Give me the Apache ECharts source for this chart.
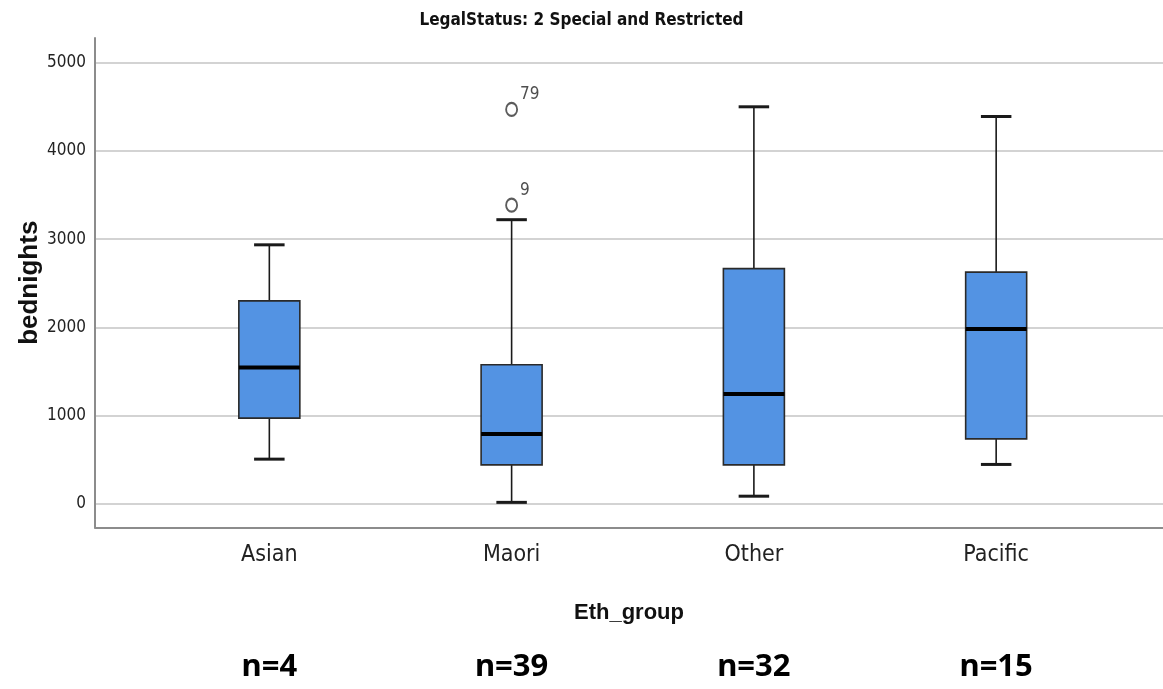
<!DOCTYPE html>
<html>
<head>
<meta charset="utf-8">
<script src="https://cdn.jsdelivr.net/npm/echarts@6/dist/echarts.min.js"></script>
<style>
html,body{margin:0;padding:0;background:#fff;}
#chart{width:1163px;height:689px;}
</style>
</head>
<body>
<div id="chart"></div>
<script>
// ---- data ----
var titleText = 'LegalStatus: 2 Special and Restricted';
var categories = ['Asian', 'Maori', 'Other', 'Pacific'];
var nLabels = ['n=4', 'n=39', 'n=32', 'n=15'];
var lowWhisker  = [505, 15, 85, 445];
var q1Values    = [970, 440, 440, 735];
var medians     = [1545, 790, 1245, 1980];
var q3Values    = [2300, 1575, 2665, 2625];
var highWhisker = [2935, 3220, 4500, 4390];
var outlierCategory = ['Maori', 'Maori'];
var outlierValues   = [3385, 4470];
var outlierIds      = ['9', '79'];
var yTicks = [0, 1000, 2000, 3000, 4000, 5000];

// ---- styles ----
var NARROW = "'Liberation Sans Narrow', 'Arial Narrow', 'DejaVu Sans Condensed', sans-serif";
var BOX_W = 61;
var Y_MIN = -270, Y_MAX = 5280;

var boxData = categories.map(function (c, i) {
  return [i, lowWhisker[i], q1Values[i], medians[i], q3Values[i], highWhisker[i]];
});
var outlierData = outlierCategory.map(function (c, i) { return [c, outlierValues[i]]; });

var chart = echarts.init(document.getElementById('chart'), null, {renderer: 'canvas'});
chart.setOption({
  backgroundColor: '#ffffff',
  animation: false,
  title: {
    text: titleText, left: 'center', top: 7,
    textStyle: {fontFamily: NARROW, fontWeight: 'bold', fontSize: 17, color: '#111'}
  },
  grid: [
    {left: 95, right: 0, top: 38, bottom: 161.5, containLabel: false, outerBoundsMode: 'none'},
    {left: 148.2, right: 45.7, top: 38, bottom: 161.5, containLabel: false, outerBoundsMode: 'none'}
  ],
  xAxis: [
    {
      gridIndex: 0, type: 'value', min: 0, max: 1,
      axisLine: {show: true, onZero: false, lineStyle: {color: '#8c8c8c', width: 2}},
      axisTick: {show: false}, axisLabel: {show: false}, splitLine: {show: false},
      name: 'Eth_group', nameLocation: 'middle', nameGap: 74, nameMoveOverlap: false,
      nameTextStyle: {fontFamily: "'Liberation Sans', Arial, sans-serif", fontWeight: 'bold', fontSize: 22, color: '#111'}
    },
    {
      gridIndex: 1, type: 'category', data: categories, boundaryGap: true,
      axisLine: {show: false}, axisTick: {show: false}, splitLine: {show: false},
      axisLabel: {fontFamily: NARROW, fontSize: 23, color: '#222', margin: 16}
    },
    {
      gridIndex: 1, type: 'category', data: nLabels, boundaryGap: true, position: 'bottom',
      axisLine: {show: false}, axisTick: {show: false}, splitLine: {show: false},
      axisLabel: {fontFamily: "'Noto Sans', 'Open Sans', sans-serif", fontWeight: 'bold', fontSize: 31, color: '#000', margin: 124}
    }
  ],
  yAxis: [
    {
      gridIndex: 0, type: 'value', min: Y_MIN, max: Y_MAX,
      axisLine: {show: true, onZero: false, lineStyle: {color: '#8c8c8c', width: 2}},
      axisTick: {show: false, customValues: yTicks},
      axisLabel: {customValues: yTicks, fontFamily: NARROW, fontSize: 17, color: '#222', margin: 9,
        formatter: function (v) { return String(v); }},
      splitLine: {show: true, lineStyle: {color: '#d3d3d3', width: 2}},
      name: 'bednights', nameLocation: 'middle', nameGap: 52, nameRotate: 90, nameMoveOverlap: false,
      nameTextStyle: {fontFamily: "'Liberation Sans', Arial, sans-serif", fontWeight: 'bold', fontSize: 26, color: '#111'}
    },
    {
      gridIndex: 1, type: 'value', min: Y_MIN, max: Y_MAX, show: false,
      splitLine: {show: false}
    }
  ],
  series: [
    {
      type: 'custom',
      xAxisIndex: 1, yAxisIndex: 1,
      data: boxData,
      encode: {x: 0, y: [1, 2, 3, 4, 5]},
      renderItem: function (params, api) {
        var x = api.value(0);
        var lo = api.coord([x, api.value(1)]);
        var q1 = api.coord([x, api.value(2)]);
        var md = api.coord([x, api.value(3)]);
        var q3 = api.coord([x, api.value(4)]);
        var hi = api.coord([x, api.value(5)]);
        var cx = lo[0];
        var hw = BOX_W / 2, cw = BOX_W / 4;
        var thin = {stroke: '#1a1a1a', lineWidth: 1.6};
        var cap = {stroke: '#1a1a1a', lineWidth: 3};
        return {
          type: 'group',
          children: [
            {type: 'line', shape: {x1: cx, y1: hi[1], x2: cx, y2: q3[1]}, style: thin},
            {type: 'line', shape: {x1: cx, y1: q1[1], x2: cx, y2: lo[1]}, style: thin},
            {type: 'line', shape: {x1: cx - cw, y1: hi[1], x2: cx + cw, y2: hi[1]}, style: cap},
            {type: 'line', shape: {x1: cx - cw, y1: lo[1], x2: cx + cw, y2: lo[1]}, style: cap},
            {type: 'rect', shape: {x: cx - hw, y: q3[1], width: BOX_W, height: q1[1] - q3[1]},
              style: {fill: '#5393E3', stroke: '#2a2a2a', lineWidth: 1.6}},
            {type: 'line', shape: {x1: cx - hw, y1: md[1], x2: cx + hw, y2: md[1]},
              style: {stroke: '#000', lineWidth: 4}}
          ]
        };
      }
    },
    {
      type: 'scatter',
      xAxisIndex: 1, yAxisIndex: 1,
      data: outlierData,
      symbol: 'emptyCircle',
      symbolSize: [11, 13],
      itemStyle: {color: '#333', borderColor: '#333', borderWidth: 1.5},
      label: {
        show: true, position: 'right', distance: 2, offset: [0, -15],
        formatter: function (p) { return outlierIds[p.dataIndex]; },
        fontFamily: NARROW, fontSize: 17, color: '#222'
      }
    }
  ]
});
</script>
</body>
</html>
